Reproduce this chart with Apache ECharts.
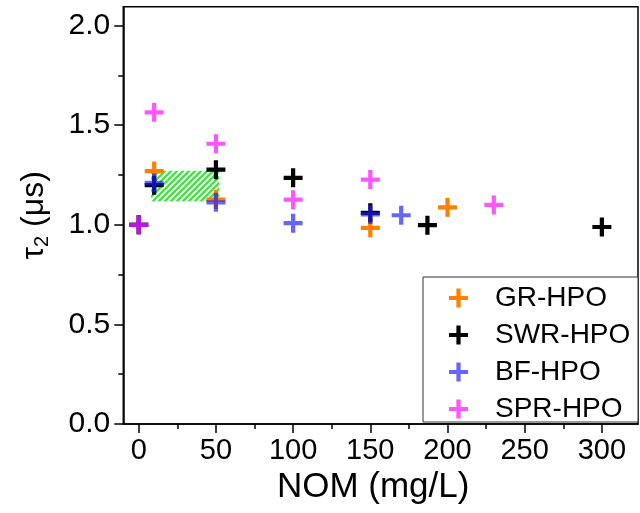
<!DOCTYPE html>
<html><head><meta charset="utf-8">
<script src="https://cdn.jsdelivr.net/npm/echarts@6/dist/echarts.min.js"></script>
<style>html,body{margin:0;padding:0;background:#fff}#c{width:640px;height:513px}</style>
</head><body><div id="c"></div>
<script>
// ---- data ----
const seriesNames = ['GR-HPO', 'SWR-HPO', 'BF-HPO', 'SPR-HPO'];
const grData  = [[0, 1.0], [10, 1.27], [50, 1.127], [150, 0.985], [200, 1.088]];
const swrData = [[0, 1.0], [10, 1.199], [50, 1.277], [100, 1.236], [150, 1.060], [187, 0.998], [300, 0.989]];
const bfData  = [[0, 1.0], [10, 1.21], [50, 1.113], [100, 1.008], [150, 1.052], [170, 1.048]];
const sprData = [[0, 1.0], [10, 1.565], [50, 1.407], [100, 1.126], [150, 1.227], [230, 1.10]];
const shadedRegion = [[8, 1.118], [52, 1.272]]; // [xFrom, yFrom], [xTo, yTo]
const xTicks = [0, 50, 100, 150, 200, 250, 300];
const xMinorTicks = [25, 75, 125, 175, 225, 275];
const yTicks = [0, 0.5, 1.0, 1.5, 2.0];
const yMinorTicks = [0.25, 0.75, 1.25, 1.75];
const xRange = [-10, 323.4];
const yRange = [0, 2.095];

// ---- styles ----
const FONT = 'Liberation Sans, Arial, sans-serif';
const PLUS = 'path://M7,0H11V7H18V11H11V18H7V11H0V7H7Z';
const colors = ['#ff8000', '#000000', 'rgba(30,30,255,0.68)', 'rgba(255,20,255,0.72)'];

function hatch() {
  const c = document.createElement('canvas');
  c.width = 6; c.height = 6;
  const g = c.getContext('2d');
  g.strokeStyle = '#2ee82e';
  g.lineWidth = 2;
  g.beginPath();
  g.moveTo(0, 6); g.lineTo(6, 0);
  g.moveTo(-3, 3); g.lineTo(3, -3);
  g.moveTo(3, 9); g.lineTo(9, 3);
  g.stroke();
  return c;
}

const chart = echarts.init(document.getElementById('c'), null, {renderer: 'canvas'});
const allData = [grData, swrData, bfData, sprData];
const series = allData.map((d, i) => ({
  name: seriesNames[i],
  type: 'scatter',
  data: d,
  symbol: PLUS,
  symbolSize: 19,
  itemStyle: {color: colors[i], opacity: 1},
  emphasis: {disabled: true},
  z: 3 + i
}));
series[0].markArea = {
  silent: true,
  itemStyle: {color: {image: hatch(), repeat: 'repeat'}, opacity: 1},
  data: [[{coord: shadedRegion[0]}, {coord: shadedRegion[1]}]],
  z: 1
};

const tickLine = {color: '#000', width: 1.5};

chart.setOption({
  backgroundColor: '#fff',
  animation: false,
  grid: {left: 123.3, right: 2, top: 6.7, bottom: 89, show: true, borderColor: '#000', borderWidth: 1.5},
  xAxis: [
    {
      type: 'value', min: xRange[0], max: xRange[1], position: 'bottom', splitLine: {show: false},
      axisLine: {show: true, onZero: false, lineStyle: tickLine},
      axisTick: {show: true, inside: false, length: 9, customValues: xTicks, lineStyle: tickLine},
      axisLabel: {customValues: xTicks, fontSize: 29, fontFamily: FONT, color: '#000', margin: 12},
      name: 'NOM (mg/L)', nameLocation: 'middle', nameGap: 41,
      nameTextStyle: {fontSize: 35, fontFamily: FONT, color: '#000', padding: [0, 15, 0, 0]}
    },
    {
      type: 'value', min: xRange[0], max: xRange[1], position: 'bottom', splitLine: {show: false},
      axisLine: {show: false, onZero: false},
      axisTick: {show: true, length: 5, customValues: xMinorTicks, lineStyle: tickLine},
      axisLabel: {show: false}
    }
  ],
  yAxis: [
    {
      type: 'value', min: yRange[0], max: yRange[1], position: 'left', splitLine: {show: false},
      axisLine: {show: true, onZero: false, lineStyle: tickLine},
      axisTick: {show: true, length: 9, customValues: yTicks, lineStyle: tickLine},
      axisLabel: {customValues: yTicks, fontSize: 30, fontFamily: FONT, color: '#000', margin: 13,
        formatter: v => v.toFixed(1)},
      name: '{t|τ}{s|2}{t| (μs)}', nameLocation: 'middle', nameGap: 71, nameRotate: 90,
      nameTextStyle: {fontFamily: FONT, color: '#000',
        rich: {t: {fontSize: 32, fontFamily: FONT, color: '#000'},
               s: {fontSize: 20, fontFamily: FONT, color: '#000', padding: [16, 0, 0, 0]}}}
    },
    {
      type: 'value', min: yRange[0], max: yRange[1], position: 'left', splitLine: {show: false},
      axisLine: {show: false, onZero: false},
      axisTick: {show: true, length: 5, customValues: yMinorTicks, lineStyle: tickLine},
      axisLabel: {show: false}
    }
  ],
  legend: {
    data: seriesNames,
    orient: 'vertical',
    left: 449, top: 284,
    padding: 0,
    itemWidth: 19, itemHeight: 19, itemGap: 9,
    textStyle: {fontSize: 28, fontFamily: FONT, color: '#000', lineHeight: 26, padding: [0, 0, 0, 22]},
    z: 10
  },
  graphic: [{
    type: 'rect', z: 8,
    shape: {x: 423, y: 277, width: 215, height: 145},
    style: {fill: '#fff', stroke: '#333', lineWidth: 1}
  }],
  series: series
});
</script>
</body></html>
